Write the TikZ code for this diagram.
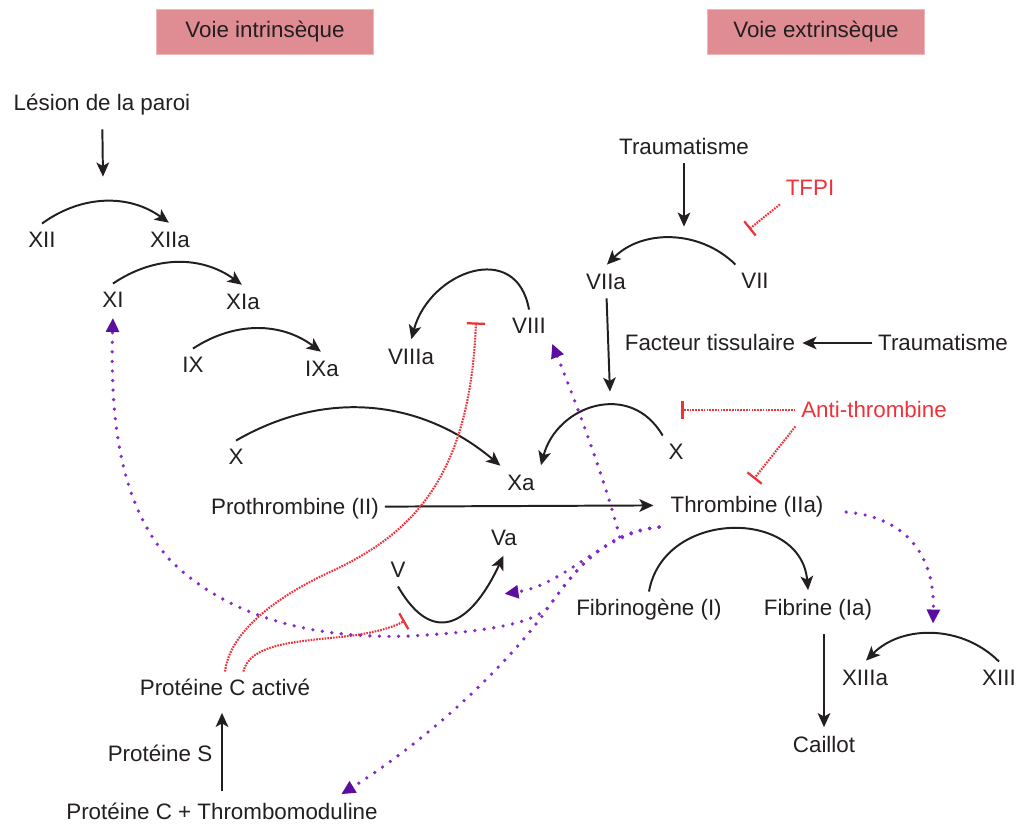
\documentclass[tikz,border=0pt]{standalone}
\usepackage{fontspec}
\setmainfont{Liberation Sans}
\usetikzlibrary{arrows.meta}

\definecolor{ink}{RGB}{35,31,32}
\definecolor{inhibred}{RGB}{237,50,58}
\definecolor{fbdot}{RGB}{132,42,200}
\definecolor{fbhead}{RGB}{92,14,158}
\definecolor{voiefill}{RGB}{223,140,146}
\definecolor{voiedraw}{RGB}{238,182,185}

\tikzset{
	fac/.style={inner xsep=4pt, inner ysep=5pt, text height=12pt, text depth=1pt},
	voie/.style={fill=voiefill, draw=voiedraw, line width=0.8pt, minimum width=5.42cm, minimum height=1.12cm},
	conv/.style={color=ink, line width=1.4pt},
	inhib/.style={color=inhibred, line width=1.5pt, dash pattern=on 1.2pt off 0.8pt, -{Bar[width=13pt,line width=1.6pt]}},
	feedback/.style={draw=fbdot, line width=2.6pt, line cap=round, dash pattern=on 0pt off 6.8pt, -{Triangle[length=10pt,width=9pt,color=fbhead]}}
}

\begin{document}
\begin{tikzpicture}[x=0.025cm,y=0.025cm,>={Stealth[length=10pt,width=9pt,inset=2.5pt]},shorten >=1pt,
	every node/.style={font=\fontsize{15.9}{19}\selectfont, text=ink}]
		\useasboundingbox (0,0) rectangle (1016,-825);

		% voies
		\node[voie]	(vint)	at (265,-32)	{Voie intrinsèque};
		\node[voie]	(vext)	at (816,-32)	{Voie extrinsèque};

		% voie intrinseque
		\node[fac]	(lesion)	at (102,-103)	{Lésion de la paroi};
		\node[fac]	(xii)	at (42,-240)	{XII};
		\node[fac]	(xiia)	at (170,-240)	{XIIa};
		\node[fac]	(xi)	at (113,-300)	{XI};
		\node[fac]	(xia)	at (243,-302)	{XIa};
		\node[fac]	(ix)	at (193,-365)	{IX};
		\node[fac]	(ixa)	at (322,-369)	{IXa};
		\node[fac]	(viiia)	at (411,-357)	{VIIIa};
		\node[fac]	(viii)	at (529,-326)	{VIII};
		\node[fac]	(xl)	at (236,-457)	{X};
		\node[fac]	(xa)	at (521,-483)	{Xa};
		\node[fac]	(proth)	at (295,-507)	{Prothrombine (II)};
		\node[fac]	(thr)	at (747,-505)	{Thrombine (IIa)};
		\node[fac]	(va)	at (504,-538)	{Va};
		\node[fac]	(v)	at (398,-570)	{V};

		% voie extrinseque
		\node[fac]	(trau)	at (684,-147)	{Traumatisme};
		\node[fac,text=inhibred]	(tfpi)	at (810,-188)	{TFPI};
		\node[fac]	(viia)	at (606,-282)	{VIIa};
		\node[fac]	(vii)	at (755,-281)	{VII};
		\node[fac]	(ft)	at (710,-343)	{Facteur tissulaire};
		\node[fac]	(trauft)	at (943,-343)	{Traumatisme};
		\node[fac]	(xr)	at (676,-452)	{X};
		\node[fac,text=inhibred]	(at)	at (874,-410)	{Anti-thrombine};

		% fibrine
		\node[fac]	(fbg)	at (649,-608)	{Fibrinogène (I)};
		\node[fac]	(fib)	at (818,-608)	{Fibrine (Ia)};
		\node[fac]	(xiiia)	at (865,-678)	{XIIIa};
		\node[fac]	(xiii)	at (999,-678)	{XIII};
		\node[fac]	(caillot)	at (824,-745)	{Caillot};

		% proteine C
		\node[fac]	(pca)	at (225,-688)	{Protéine C activé};
		\node[fac]	(ps)	at (160,-754)	{Protéine S};
		\node[fac]	(pctm)	at (222,-812)	{Protéine C + Thrombomoduline};

		\coordinate	(c-les)	at (103,-178);
		\coordinate	(c-trau)	at (684,-228);
		\coordinate	(c-x)	at (610,-393);
		\coordinate	(c-tfpi)	at (748,-230);
		\coordinate	(c-atx)	at (680,-410);
		\coordinate	(c-atthr)	at (753,-480);
		\coordinate	(c-pviii)	at (476,-321);
		\coordinate	(c-pv)	at (406,-620);
		\coordinate	(c-thr)	at ([shift={(-4pt,-4pt)}]thr.south west);
		\coordinate	(c-va)	at (503,-594);
		\coordinate	(c-tm)	at (340,-795);
		\coordinate	(c-xiii)	at (933,-625);

		\path[conv,->]
		(lesion)	edge	[shorten <=7pt]	(c-les)
		(xii.north)	edge	[bend left=36]	(xiia.north)
		(xi.north)	edge	[bend left=35]	(xia.north)
		(ix.north)	edge	[bend left=35]	(ixa.north)
		(xl.north)	edge	[out=30,in=140]	(xa.north west)
		(viii.north)	edge	[out=100,in=75,looseness=1.5]	(viiia.north)
		(proth)	edge	[shorten >=8pt]	(thr)
		(v.south)	edge	[out=-60,in=-115,looseness=1.7]	(va.south)
		(trau)	edge	[]	(c-trau)
		(vii.north west)	edge	[bend right=45]	(viia.north)
		(viia)	edge	[]	(c-x)
		(trauft)	edge	[]	(ft)
		(xr.north west)	edge	[out=120,in=75,looseness=1.3]	(xa.north east)
		(fbg.north)	edge	[out=80,in=95,looseness=1.35]	([xshift=-7pt]fib.north)
		(caillot.north |- fib.south)	edge	[shorten <=7pt]	(caillot)
		(xiii.north)	edge	[bend right=45]	(xiiia.north)
		(pctm.north)	edge	[shorten <=3pt,shorten >=6pt]	(pctm.north |- pca.south)
		;

		\path[inhib]
		(tfpi.south west)	edge	(c-tfpi)
		(at.west)	edge	(c-atx)
		(at.south west)	edge	(c-atthr)
		;
		\draw[inhib]	(pca.north) .. controls (230,-630) and (280,-595) .. (330,-572) .. controls (410,-535) and (470,-480) .. (c-pviii);
		\draw[inhib]	([xshift=13pt]pca.north) .. controls (250,-645) and (290,-642) .. (340,-637) .. controls (370,-634) and (392,-628) .. (c-pv);

		% retro-activation par la thrombine
		\draw[feedback]	([shift={(12pt,-5pt)}]thr.east) .. controls (895,-516) and (935,-545) .. (c-xiii);
		\draw[feedback]	([shift={(-32pt,-11pt)}]thr.south west) .. controls (605,-480) and (575,-400) .. (viii.south east);
		\draw[feedback]	(c-thr) .. controls (605,-532) and (565,-585) .. (c-va);
		\draw[feedback]	(c-thr) .. controls (605,-532) and (575,-570) .. (550,-605) .. controls (505,-670) and (420,-745) .. (c-tm);
		\draw[feedback]	(c-thr) .. controls (605,-532) and (575,-570) .. (550,-605) .. controls (535,-625) and (480,-632) .. (410,-636) .. controls (300,-640) and (220,-610) .. (170,-560) .. controls (120,-505) and (110,-420) .. (xi.south);
	\end{tikzpicture}
\end{document}
